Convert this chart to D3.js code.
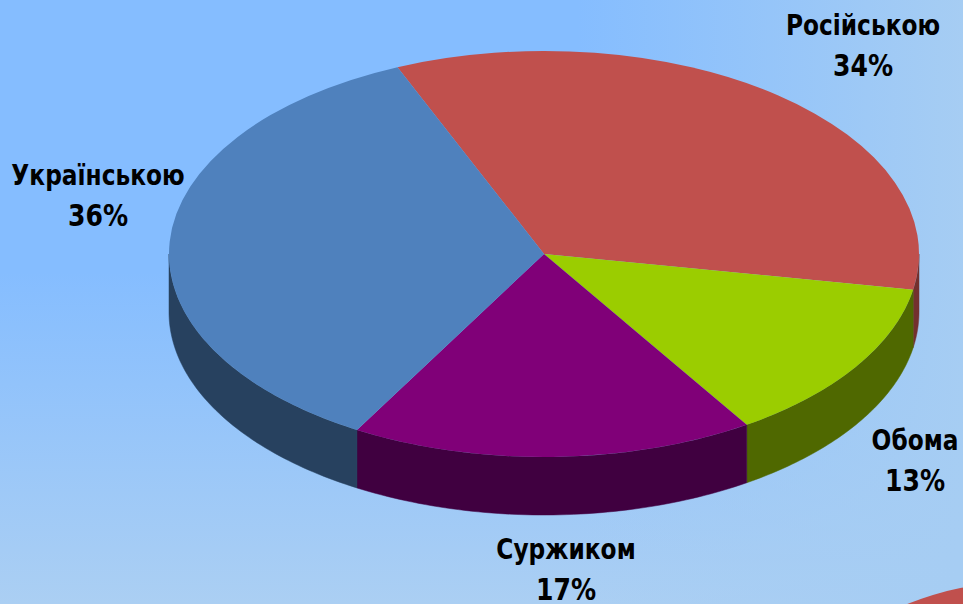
<!DOCTYPE html>
<html><head><meta charset="utf-8">
<script src="https://cdn.jsdelivr.net/npm/d3@7"></script>
<style>html,body{margin:0;padding:0;overflow:hidden}svg{display:block}</style>
</head><body><svg id="c" width="963" height="604"></svg>
<script>
const categories = ["Російською","Обома","Суржиком","Українською"];
const labels = ["34%","13%","17%","36%"];
const values = [34.2,13.1,17.4,35.3];
const topColors = ["#c0504d","#9bcd00","#800078","#4f81bd"];
const sideColors = ["#73302e","#4f6800","#400040","#27415f"];
const labelX = [863,915,566,98];
const labelY = [35,450,559,185];

const W=963,H=604,cx=544,cy=254,rx=375,ry=203,depth=58,start=-23*Math.PI/180;
const svg=d3.select("#c");
const defs=svg.append("defs");
const v=defs.append("linearGradient").attr("id","bgv").attr("x1",0).attr("y1",0).attr("x2",0).attr("y2",1);
v.append("stop").attr("offset","0.45").attr("stop-color","#85bdff");
v.append("stop").attr("offset","1").attr("stop-color","#abcff3");
const h=defs.append("linearGradient").attr("id","bgh").attr("x1",0).attr("y1",0).attr("x2",1).attr("y2",0);
h.append("stop").attr("offset","0.6").attr("stop-color","#a6cdf3").attr("stop-opacity",0);
h.append("stop").attr("offset","1").attr("stop-color","#a6cdf3").attr("stop-opacity",1);
svg.append("rect").attr("width",W).attr("height",H).attr("fill","url(#bgv)");
svg.append("rect").attr("width",W).attr("height",H).attr("fill","url(#bgh)");
svg.append("circle").attr("cx",1020).attr("cy",882).attr("r",300).attr("fill","#c0504d");

const pie=d3.pie().sort(null).startAngle(start).endAngle(start+2*Math.PI);
const arcs=pie(values);
const sx=a=>cx+rx*Math.sin(a), sy=a=>cy-ry*Math.cos(a);
const wall=d3.area().x(sx).y0(sy).y1(a=>sy(a)+depth);
const chart=svg.append("g");
arcs.forEach((d,i)=>{
  for(const off of [0,-2*Math.PI]){
    const a0=Math.max(d.startAngle+off,Math.PI/2), a1=Math.min(d.endAngle+off,3*Math.PI/2);
    if(a1>a0) chart.append("path").attr("d",wall(d3.range(0,61).map(k=>a0+(a1-a0)*k/60))).attr("fill",sideColors[i]).attr("stroke",sideColors[i]).attr("stroke-width",0.5);
  }
});
const arcGen=d3.arc().innerRadius(0).outerRadius(rx);
const topFace=chart.append("g").attr("transform",`translate(${cx},${cy}) scale(1,${ry/rx})`);
topFace.selectAll("path").data(arcs).join("path").attr("d",arcGen).attr("fill",(d,i)=>topColors[i]);
const t=svg.append("g").attr("font-family","'DejaVu Sans Condensed','DejaVu Sans',sans-serif").attr("font-stretch","condensed").attr("font-weight",700).attr("text-anchor","middle").attr("fill","#000");
categories.forEach((c,i)=>{
  t.append("text").attr("font-size",28).attr("transform",`translate(${labelX[i]},${labelY[i]}) scale(0.925,1)`).text(c);
  t.append("text").attr("font-size",30).attr("transform",`translate(${labelX[i]},${labelY[i]+41}) scale(0.93,1)`).text(labels[i]);
});
</script></body></html>
